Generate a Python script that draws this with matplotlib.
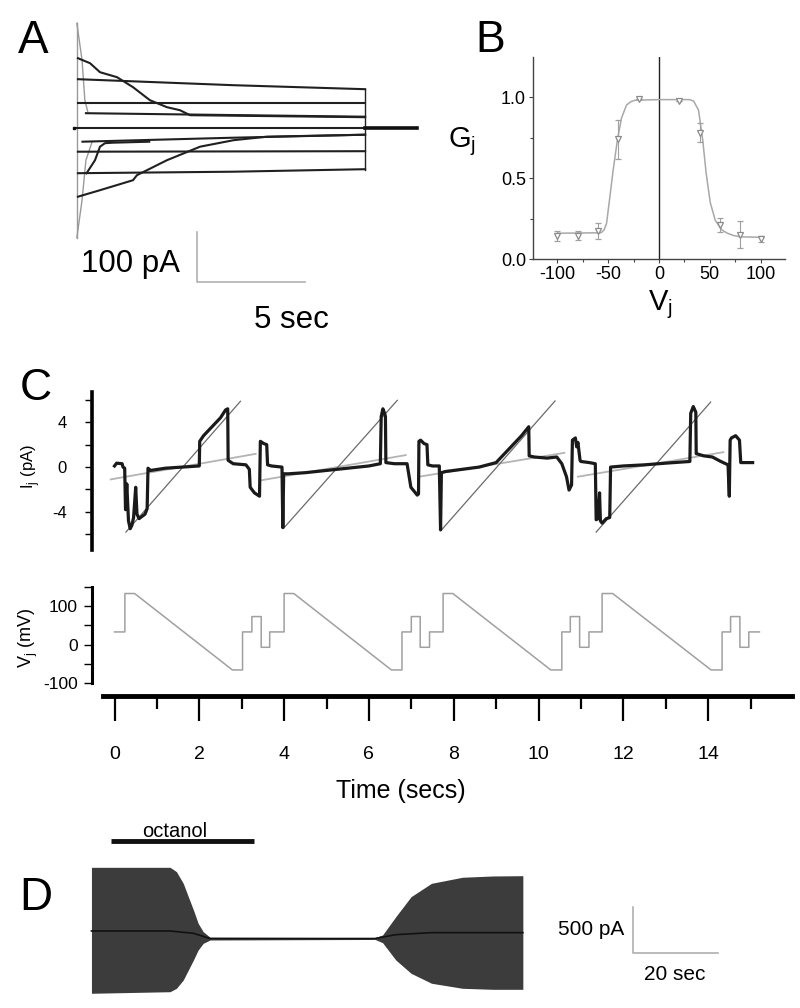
import matplotlib
matplotlib.use("Agg")
import matplotlib.pyplot as plt
from matplotlib.ticker import MultipleLocator, FixedLocator

plt.rcParams['font.family'] = ['Liberation Sans', 'DejaVu Sans']
plt.rcParams['axes.unicode_minus'] = False

W, H = 800, 1008

# ---------------- panel A: current traces (t in s, I in pA) ----------------
a_tr_t = [
    [0, 0.56, 1.02, 1.81, 2.55, 3.33, 4.12, 4.72, 5.19, 13.29],
    [0, 7.2, 13.29],
    [0, 13.29],
    [0.37, 4.0, 13.29],
    [-0.1, 13.29],
    [0.21, 7.2, 13.29],
    [0.4, 0.79, 1.02, 1.25, 1.6, 3.3],
    [0, 13.29],
    [0, 7.2, 13.29],
    [0, 1.02, 2.55, 2.73, 4.12, 5.65, 7.2, 8.74, 13.29],
]
a_tr_i = [
    [139, 129, 111, 101, 81, 55, 41, 35, 25, 21],
    [97, 85, 77],
    [49, 49],
    [29, 27, 22],
    [0, 0],
    [-28, -20, -14],
    [-91, -65, -38, -31, -30, -28],
    [-48, -47],
    [-91, -88, -83],
    [-138, -125, -105, -95, -65, -38, -25, -18, -14],
]
a_tail_t = [13.29, 15.7]
a_tail_i = [0, 0]
a_edge_t = [13.29, 13.29]
a_edge_i = [77, -84]
a_cap_t = [-0.05, -0.05]
a_cap_i = [209, -220]
a_up_t = [-0.05, 0.19, 0.32, 0.46]
a_up_i = [209, 135, 55, 31]
a_dn_t = [-0.05, 0.19, 0.37, 0.65]
a_dn_i = [-220, -145, -65, -29]

# ---------------- panel B: Gj-Vj ----------------
b_v = [-100, -80, -60, -40, -20, 20, 40, 60, 80, 100]
b_g = [0.14, 0.145, 0.175, 0.74, 0.99, 0.975, 0.78, 0.21, 0.15, 0.125]
b_err = [0.03, 0.03, 0.05, 0.12, 0.0, 0.0, 0.06, 0.045, 0.085, 0.02]
fit_v = [-100, -57, -54, -51.6, -48.4, -45.1, -40.8, -36.9, -32, -28, -23.8, 0,
         30, 34, 38.9, 43.1, 46.4, 50.4, 55.3, 61.8, 67, 73.3, 80, 100]
fit_g = [0.159, 0.162, 0.18, 0.22, 0.38, 0.55, 0.74, 0.87, 0.95, 0.97, 0.98, 0.984,
         0.984, 0.975, 0.92, 0.73, 0.53, 0.35, 0.24, 0.18, 0.16, 0.145, 0.137, 0.134]

# ---------------- panel C: single channel current and Vj protocol ----------------
ij_t = [0.0, 0.05, 0.18, 0.2, 0.24, 0.26, 0.29, 0.33, 0.37, 0.41, 0.45, 0.5, 0.53, 0.58,
        0.65, 0.72, 0.77, 0.79, 0.85, 1.2, 1.6, 2.0, 2.01, 2.1, 2.3, 2.5, 2.62, 2.67, 2.68,
        2.8, 3.1, 3.18, 3.2, 3.3, 3.42, 3.44, 3.52, 3.59, 3.61, 3.7, 3.95, 3.97, 3.99, 4.1,
        4.5, 5.0, 5.5, 6.0, 6.27, 6.29, 6.33, 6.37, 6.39, 6.4, 6.6, 6.9, 6.99, 7.14, 7.17,
        7.18, 7.22, 7.3, 7.37, 7.39, 7.5, 7.66, 7.69, 7.71, 7.8, 8.2, 8.6, 9.0, 9.2, 9.4,
        9.6, 9.77, 9.78, 9.9, 10.2, 10.43, 10.55, 10.66, 10.72, 10.78, 10.8, 10.87, 10.9,
        10.93, 10.98, 11.0, 11.2, 11.34, 11.36, 11.4, 11.44, 11.46, 11.5, 11.6, 11.68, 11.7,
        12.0, 12.5, 13.0, 13.57, 13.59, 13.65, 13.71, 13.72, 13.9, 14.1, 14.3, 14.47, 14.5,
        14.52, 14.55, 14.65, 14.74, 14.77, 14.9, 15.05]
ij_i = [0.1, 0.35, 0.3, 0.0, -0.1, -3.8, -1.5, -4.8, -5.5, -5.2, -4.5, -1.8, -4.2, -4.6,
        -4.4, -4.2, -3.7, -0.1, -0.3, -0.1, 0.0, 0.1, 2.3, 2.8, 3.6, 4.4, 5.1, 5.2, 0.6,
        0.3, 0.2, -0.2, -1.8, -2.3, -2.6, 2.3, 2.1, 2.0, 0.2, 0.1, 0.0, -5.4, -0.6, -0.6,
        -0.5, -0.3, -0.1, 0.1, 0.3, 4.5, 5.2, 4.8, 4.5, 0.4, 0.3, 0.3, -1.8, -2.5, -2.4,
        2.3, 2.4, 2.1, 2.0, 0.2, 0.1, 0.1, -5.6, -0.5, -0.4, -0.2, 0.0, 0.4, 1.2, 2.0,
        2.8, 3.6, 1.0, 0.9, 0.8, 0.9, 0.3, -0.86, -2.05, -1.6, 2.4, 2.6, 1.8,
        2.2, 0.6, 0.5, 0.4, 0.3, -4.7, -4.6, -2.3, -4.8, -5.0, -4.6, -4.5, 0.0,
        0.1, 0.2, 0.35, 0.5, 4.8, 5.4, 4.9, 1.2, 1.0, 0.9, 0.5, 0.2, -2.6,
        2.4, 2.6, 2.8, 2.4, 0.4, 0.4, 0.4]

# predicted open-channel ramps (dark) and residual ramps (light)
steep_t = [[0.27, 2.97], [3.99, 6.67], [7.70, 10.39], [11.36, 14.06]]
steep_i = [[-5.8, 5.87], [-5.45, 5.96], [-5.66, 5.9], [-5.8, 5.8]]
flat_t = [[-0.09, 3.33], [3.46, 6.87], [7.18, 10.61], [10.93, 14.36]]
flat_i = [[-1.1, 1.18], [-1.18, 1.07], [-0.86, 1.27], [-0.86, 1.33]]

vj_t = [0,
        0.245, 0.245, 0.475, 2.78, 3.02, 3.02, 3.24, 3.24, 3.46, 3.46, 3.66, 3.66,
        4.0, 4.0, 4.23, 6.53, 6.78, 6.78, 7.0, 7.0, 7.21, 7.21, 7.43, 7.43,
        7.75, 7.75, 7.98, 10.29, 10.55, 10.55, 10.75, 10.75, 10.97, 10.97, 11.19, 11.19,
        11.5, 11.5, 11.75, 14.07, 14.33, 14.33, 14.53, 14.53, 14.75, 14.75, 14.96, 14.96,
        15.21]
vj_v = [33,
        33, 133, 133, -66, -66, 33, 33, 73, 73, -7, -7, 33,
        33, 133, 133, -66, -66, 33, 33, 73, 73, -7, -7, 33,
        33, 133, 133, -66, -66, 33, 33, 73, 73, -7, -7, 33,
        33, 133, 133, -66, -66, 33, 33, 73, 73, -7, -7, 33,
        33]
time_major = [0, 2, 4, 6, 8, 10, 12, 14]
time_minor = [1, 3, 5, 7, 9, 11, 13, 15]

# ---------------- panel D: octanol uncoupling (t in s, I in pA) ----------------
d_t = [0, 18.5, 20.0, 21.6, 22.8, 24.0, 25.1, 26.3, 27.9, 66.7, 68.5, 71.6, 75.2,
       80.0, 87.3, 94.5, 101.5]
d_top = [692, 692, 645, 518, 372, 228, 84, -8, -68, -72, -43, 155, 373, 518, 584, 598, 601]
d_bot = [-677, -660, -623, -533, -424, -315, -207, -134, -98, -92, -127, -315, -460,
         -568, -623, -634, -634]
d_ct = [0, 18.5, 24.0, 27.9, 66.7, 71.6, 80.0, 101.5]
d_ci = [0, 0, -25, -82, -82, -40, -18, -18]
octanol_t = [4.5, 38.3]


fig = plt.figure(figsize=(8, 10.08), dpi=100)


def px_ax(l, t, r, b):
    return fig.add_axes([l / W, 1 - b / H, (r - l) / W, (b - t) / H])


def ftext(x, y, s, **kw):
    fig.text(x / W, 1 - y / H, s, **kw)


# panel letters
ftext(33, 53, 'A', fontsize=33, ha='center', va='baseline')
ftext(490, 52, 'B', fontsize=32, ha='center', va='baseline')
ftext(36, 400, 'C', fontsize=32, ha='center', va='baseline')
ftext(36, 910, 'D', fontsize=33, ha='center', va='baseline')

# ---- A ----
axA = px_ax(60, 0, 420, 340)
axA.set_xlim(-0.83, 15.83)
axA.set_ylim(-424.6, 255.4)
axA.axis('off')
grey_a = '#9a9a9a'
axA.plot(a_cap_t, a_cap_i, color=grey_a, lw=1)
axA.plot(a_up_t, a_up_i, color=grey_a, lw=1)
axA.plot(a_dn_t, a_dn_i, color=grey_a, lw=1)
for tt, ii in zip(a_tr_t, a_tr_i):
    axA.plot(tt, ii, color='#202020', lw=1.5)
axA.plot(a_edge_t, a_edge_i, color='#202020', lw=1)
axA.plot(a_tail_t, a_tail_i, color='#101010', lw=2.6)
axA.plot([-0.19], [0], 's', color='#101010', ms=2)
axA.plot([5.51, 5.51, 10.51], [-208.6, -308.6, -308.6], color='#b0b0b0', lw=1.2)
axA.text(2.45, -288.6, '100 pA', fontsize=22.5, ha='center', va='baseline')
axA.text(9.9, -400.6, '5 sec', fontsize=22.5, ha='center', va='baseline')

# ---- B ----
axB = px_ax(533, 57, 785, 259)
axB.set_xlim(-124, 124)
axB.set_ylim(0, 1.247)
for s in ['top', 'right']:
    axB.spines[s].set_visible(False)
for s in ['left', 'bottom']:
    axB.spines[s].set_color('#444444')
    axB.spines[s].set_linewidth(1)
axB.axvline(0, color='#222222', lw=1)
axB.plot(fit_v, fit_g, color='#a8a8a8', lw=1.1)
axB.errorbar(b_v, b_g, yerr=b_err, fmt='v', mfc='white', mec='#8a8a8a', ecolor='#a0a0a0',
             ms=5, mew=0.9, capsize=2.5, elinewidth=0.8, capthick=0.8)
axB.set_xticks([-100, -50, 0, 50, 100])
axB.set_yticks([0, 0.5, 1.0])
axB.set_yticklabels(['0.0', '0.5', '1.0'])
axB.xaxis.set_minor_locator(MultipleLocator(25))
axB.yaxis.set_minor_locator(MultipleLocator(0.25))
axB.tick_params(which='both', direction='out', length=3, width=0.8, color='#444444',
                labelsize=13, pad=2)
axB.tick_params(which='minor', length=2)
ftext(448, 147, 'G$_\\mathregular{j}$', fontsize=21, ha='left', va='baseline')
ftext(648, 310, 'V$_\\mathregular{j}$', fontsize=21, ha='left', va='baseline')

# ---- C ----
t_left = (92 - 114.5) / 42.4
t_right = (792 - 114.5) / 42.4

axI = px_ax(92, 392, 792, 550)
axI.set_xlim(t_left, t_right)
axI.set_ylim(-7.4, 6.7)
for s in ['top', 'right', 'bottom']:
    axI.spines[s].set_visible(False)
axI.spines['left'].set_linewidth(2.6)
axI.set_xticks([])
axI.set_yticks([-4, 0, 4])
axI.yaxis.set_minor_locator(FixedLocator([-6, -2, 2, 6]))
axI.tick_params(axis='y', which='both', direction='out', length=5, width=1,
                labelsize=12, pad=13)
for t0, i0 in zip(flat_t, flat_i):
    axI.plot(t0, i0, color='#b4b4b4', lw=1.3)
for t0, i0 in zip(steep_t, steep_i):
    axI.plot(t0, i0, color='#6a6a6a', lw=0.9)
axI.plot(ij_t, ij_i, color='#1a1a1a', lw=2.3)
ftext(31, 467, 'I$_\\mathregular{j}$ (pA)', fontsize=12, rotation=90, ha='center', va='center')

axV = px_ax(92, 587, 792, 683)
axV.set_xlim(t_left, t_right)
axV.set_ylim(-100, 150)
for s in ['top', 'right', 'bottom']:
    axV.spines[s].set_visible(False)
axV.spines['left'].set_linewidth(2.2)
axV.set_xticks([])
axV.set_yticks([-100, 0, 100])
axV.yaxis.set_minor_locator(FixedLocator([-50, 50, 150]))
axV.tick_params(axis='y', which='both', direction='out', length=6, width=1,
                labelsize=12.5, pad=4)
axV.plot(vj_t, vj_v, color='#a0a0a0', lw=1.1)
ftext(28, 638, 'V$_\\mathregular{j}$ (mV)', fontsize=13, rotation=90, ha='center', va='center')

axT = px_ax(92, 640, 792, 696)
axT.set_xlim(t_left, t_right)
axT.set_ylim(0, 1)
for s in ['top', 'right', 'left']:
    axT.spines[s].set_visible(False)
axT.patch.set_visible(False)
axT.spines['bottom'].set_linewidth(3.5)
axT.spines['bottom'].set_bounds((103 - 114.5) / 42.4, t_right)
axT.set_yticks([])
axT.set_xticks(time_major)
axT.set_xticklabels([str(v) for v in time_major])
axT.xaxis.set_minor_locator(FixedLocator(time_minor))
axT.tick_params(axis='x', which='major', direction='out', length=18, width=1.6,
                labelsize=14, pad=18)
axT.tick_params(axis='x', which='minor', direction='out', length=9, width=1.6)
ftext(401, 798, 'Time (secs)', fontsize=18, ha='center', va='baseline')

# ---- D ----
axD = px_ax(60, 810, 760, 1008)
axD.set_xlim(-7.4, 157.3)
axD.set_ylim(-837, 1315)
axD.axis('off')
axD.fill_between(d_t, d_bot, d_top, color='#3c3c3c', lw=0)
axD.plot(d_ct, d_ci, color='#111111', lw=1.2)
axD.plot(octanol_t, [978, 978], color='#111111', lw=3.5, solid_capstyle='butt')
axD.text(19.6, 1020, 'octanol', fontsize=14.5, ha='center', va='baseline')
axD.plot([127.4, 127.4, 147.4], [264, -236, -236], color='#a8a8a8', lw=1.1)
axD.text(125.3, -42, '500 pA', fontsize=15, ha='right', va='baseline')
axD.text(137.2, -533, '20 sec', fontsize=15, ha='center', va='baseline')

fig.savefig('out.png', dpi=100)
